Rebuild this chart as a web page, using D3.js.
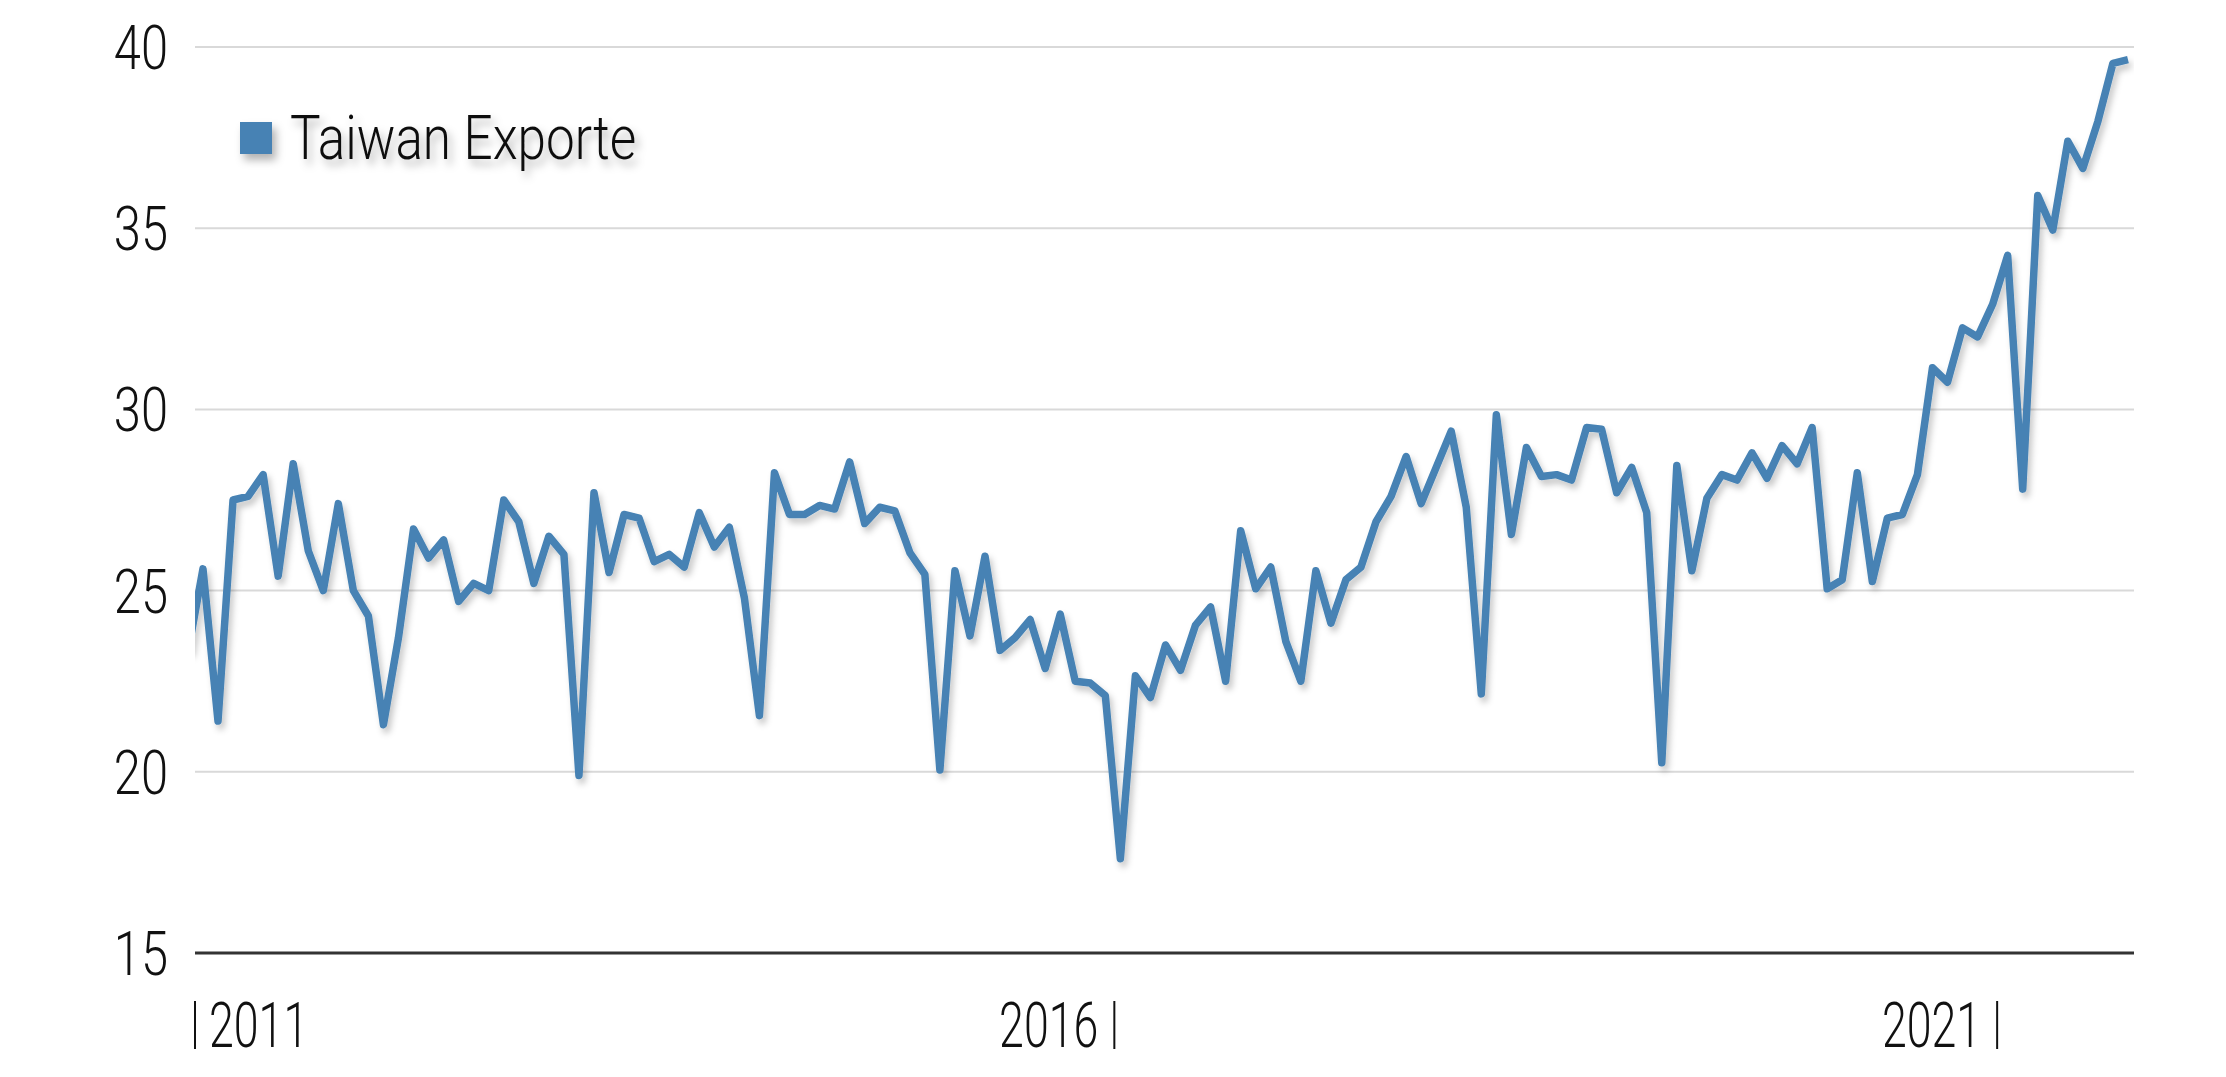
<!DOCTYPE html>
<meta charset="utf-8">
<head>
    <title>Taiwan Exporte</title>
    <script src="https://d3js.org/d3.v7.min.js"></script>
    <style>
        body { margin: 0; background: #fff; }
        text { font-family: Roboto, sans-serif; font-weight: 300; fill: #111; }
        .grid line { stroke: #d9d9d9; stroke-width: 2; }
        .baseline { stroke: #333; stroke-width: 3; }
    </style>
</head>
<body>
<svg width="2226" height="1077"></svg>
<script>

    // monthly values, first point is Dec 2010 (index -1), last is Sep 2021
    var firstIndex = -1;
    var exports = [
        23.3,
        25.6, 21.4, 27.5, 27.6, 28.2, 25.4, 28.5, 26.1, 25.0, 27.4, 25.0, 24.3,
        21.3, 23.7, 26.7, 25.9, 26.4, 24.7, 25.2, 25.0, 27.5, 26.9, 25.2, 26.5,
        26.0, 19.9, 27.7, 25.5, 27.1, 27.0, 25.8, 26.0, 25.65, 27.15, 26.2, 26.75,
        24.8, 21.55, 28.25, 27.1, 27.1, 27.35, 27.25, 28.55, 26.85, 27.3, 27.2, 26.05,
        25.45, 20.05, 25.55, 23.75, 25.95, 23.35, 23.7, 24.2, 22.85, 24.35, 22.5, 22.45,
        22.1, 17.6, 22.65, 22.05, 23.5, 22.8, 24.05, 24.55, 22.5, 26.65, 25.05, 25.65,
        23.6, 22.5, 25.55, 24.1, 25.3, 25.65, 26.9, 27.6, 28.7, 27.4, 28.4, 29.4,
        27.3, 22.15, 29.85, 26.55, 28.95, 28.15, 28.2, 28.05, 29.5, 29.45, 27.7, 28.4,
        27.15, 20.25, 28.45, 25.55, 27.55, 28.2, 28.05, 28.8, 28.1, 29.0, 28.5, 29.5,
        25.05, 25.3, 28.25, 25.25, 27.0, 27.1, 28.2, 31.15, 30.75, 32.25, 32.0, 32.9,
        34.25, 27.8, 35.9, 34.95, 37.4, 36.65, 37.95, 39.55, 39.65
    ];
    var seriesName = "Taiwan Exporte";
    var yTicks = [15, 20, 25, 30, 35, 40];
    // year ticks, position in month index (0 = Jan 2011)
    var xTickLabels = ["2011", "2016", "2021"];
    var xTickAt = [-0.53, 60.6, 119.3];
    var xLabelSide = ["right", "left", "left"];

    var svg = d3.select("svg"),
        margin = { top: 47, right: 92, bottom: 124, left: 195 },
        width = +svg.attr("width") - margin.left - margin.right,
        height = +svg.attr("height") - margin.top - margin.bottom;

    var blue = "#4682b4";

    var defs = svg.append("defs");
    defs.append("clipPath").attr("id", "plot")
        .append("rect").attr("width", width).attr("height", height + 20).attr("y", -10);
    defs.append("filter").attr("id", "shadow").attr("x", "-10%").attr("y", "-10%")
        .attr("width", "120%").attr("height", "130%")
        .append("feDropShadow").attr("dx", 3).attr("dy", 5).attr("stdDeviation", 3)
        .attr("flood-color", "#000").attr("flood-opacity", 0.22);
    defs.append("filter").attr("id", "lshadow").attr("x", "-20%").attr("y", "-30%")
        .attr("width", "140%").attr("height", "180%")
        .append("feDropShadow").attr("dx", 4).attr("dy", 6).attr("stdDeviation", 4)
        .attr("flood-color", "#000").attr("flood-opacity", 0.3);

    var g = svg.append("g").attr("transform", "translate(" + margin.left + "," + margin.top + ")");

    var x = d3.scaleLinear().domain([-0.53, 128.4]).range([0, width]);
    var y = d3.scaleLinear().domain([15, 40]).range([height, 0]);

    // grid
    g.append("g").attr("class", "grid")
        .selectAll("line").data(yTicks.slice(1)).enter().append("line")
        .attr("x1", 0).attr("x2", width)
        .attr("y1", function (d) { return y(d); })
        .attr("y2", function (d) { return y(d); });

    g.append("line").attr("class", "baseline")
        .attr("x1", 0).attr("x2", width)
        .attr("y1", y(15)).attr("y2", y(15));

    // y labels
    g.selectAll(".ylab").data(yTicks).enter().append("text")
        .attr("class", "ylab")
        .attr("transform", function (d) { return "translate(-27," + y(d) + ") scale(0.8,1)"; })
        .attr("text-anchor", "end")
        .attr("dy", "0.36em")
        .style("font-size", "61px")
        .text(function (d) { return d; });

    // x ticks and labels
    var xt = g.selectAll(".xtick").data(xTickLabels).enter().append("g")
        .attr("class", "xtick")
        .attr("transform", function (d, i) { return "translate(" + x(xTickAt[i]) + "," + (height + 48) + ")"; });

    xt.append("line")
        .attr("y1", 0).attr("y2", 48)
        .attr("stroke", "#111").attr("stroke-width", 2);

    xt.append("text")
        .attr("transform", function (d, i) {
            return "translate(" + (xLabelSide[i] === "right" ? 14 : -16) + ",46) scale(0.71,1)";
        })
        .attr("text-anchor", function (d, i) { return xLabelSide[i] === "right" ? "start" : "end"; })
        .style("font-size", "63px")
        .text(function (d) { return d; });

    // line
    var line = d3.line()
        .x(function (d, i) { return x(i + firstIndex); })
        .y(function (d) { return y(d); });

    g.append("g").attr("clip-path", "url(#plot)")
        .append("path")
        .datum(exports)
        .attr("fill", "none")
        .attr("stroke", blue)
        .attr("stroke-width", 7.5)
        .attr("stroke-linejoin", "round")
        .attr("filter", "url(#shadow)")
        .attr("d", line);

    // legend
    var legend = svg.append("g").attr("filter", "url(#lshadow)");
    legend.append("rect")
        .attr("x", 240).attr("y", 122).attr("width", 32).attr("height", 32)
        .attr("fill", blue);
    legend.append("text")
        .attr("transform", "translate(290,159) scale(0.84,1)")
        .style("font-size", "61px")
        .text(seriesName);

</script>
</body>
</html>
